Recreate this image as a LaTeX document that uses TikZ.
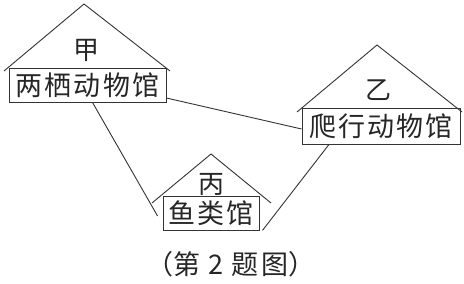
\documentclass[tikz,border=0pt]{standalone}
\usepackage{fontspec}
\newfontfamily\cjk[LetterSpace=8]{Noto Sans CJK SC}
\newfontfamily\cjkc{Noto Sans CJK SC}
\usetikzlibrary{calc}
\tikzset{
  ink/.style={draw=black!80, line width=0.9pt},
  hall/.style={ink, rectangle, inner sep=0pt, font=\cjk\fontsize{27}{30}\selectfont, text=black!85},
  tag/.style={font=\cjkc\fontsize{26}{28}\selectfont, text=black!85, inner sep=0pt},
  link/.style={ink}
}
\begin{document}
\begin{tikzpicture}[x=1pt,y=-1pt]
\useasboundingbox (0,0) rectangle (464,284);
% houses
\node[hall, minimum width=157pt, minimum height=34pt] (b1) at (87.5,85) {两栖动物馆};
\node[hall, minimum width=158pt, minimum height=36pt] (b2) at (381,126) {爬行动物馆};
\node[hall, minimum width=96pt, minimum height=34pt] (b3) at (211,213) {鱼类馆};
% roofs
\coordinate (r1a) at (84,4);
\coordinate (r2a) at (377,45);
\coordinate (r3a) at (211,154);
\draw[ink] (4,71) -- (r1a) -- (170,71);
\draw[ink] (297,112) -- (r2a) -- (462,112);
\draw[ink] (152,203) -- (r3a) -- (271,203);
% labels
\node[tag] (t1) at (86,50) {甲};
\node[tag] (t2) at (378,90) {乙};
\node[tag] (t3) at (211,184) {丙};
% connectors
\draw[link] ($(b1.south)+(5,0)$) -- ($(b3.west)+(-5,3)$);
\draw[link] ($(b1.east)+(0,13)$) -- ($(b2.west)+(0,3)$);
\draw[link] ($(b3.south east)+(3,0)$) -- ($(b2.south)+(-52,0)$);
% caption
\node[font=\cjkc\fontsize{27}{30}\selectfont, text=black!85, inner sep=0pt] (cap) at (231,264) {（第\hspace{8pt}2\hspace{8pt}题\hspace{3pt}图）};
\end{tikzpicture}
\end{document}
